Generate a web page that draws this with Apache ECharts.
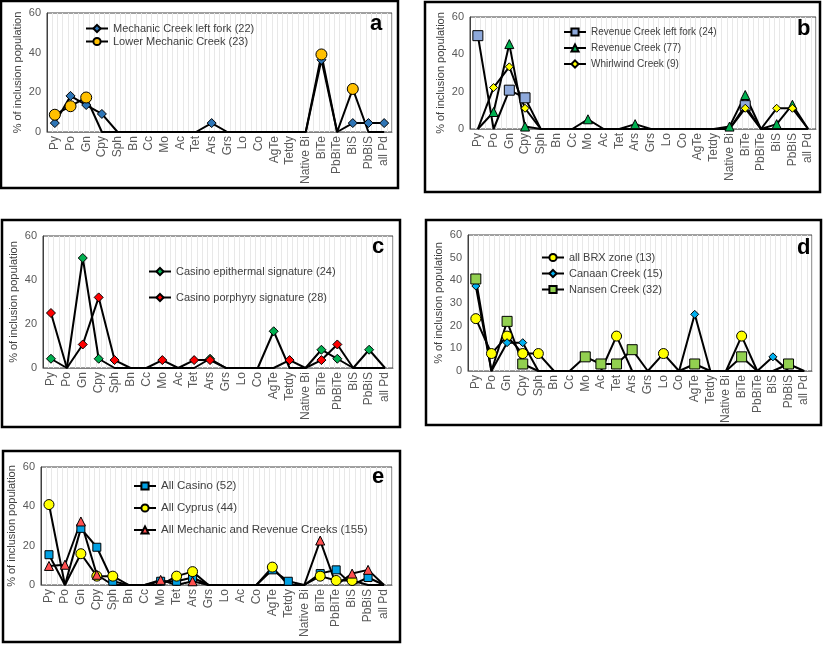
<!DOCTYPE html>
<html><head><meta charset="utf-8">
<script src="https://cdn.jsdelivr.net/npm/echarts@6/dist/echarts.min.js"></script>
<style>html,body{margin:0;padding:0;background:#fff}#c{width:824px;height:645px}</style>
</head><body><div id="c"></div>
<script>
// categories
const cats = ['Py','Po','Gn','Cpy','Sph','Bn','Cc','Mo','Ac','Tet','Ars','Grs','Lo','Co','AgTe','Tetdy','Native Bi','BiTe','PbBiTe','BiS','PbBiS','all Pd'];
const catsE = ['Py','Po','Gn','Cpy','Sph','Bn','Cc','Mo','Tet','Ars','Grs','Lo','Ac','Co','AgTe','Tetdy','Native Bi','BiTe','PbBiTe','BiS','PbBiS','all Pd'];
const yTicks20 = [0,20,40,60];
const yTicks10 = [0,10,20,30,40,50,60];
// panel a
const mechLeft  = [4.5,18.2,13.6,9.1,0,0,0,0,0,0,4.5,0,0,0,0,0,0,36.4,0,4.5,4.5,4.5];
const lowerMech = [8.7,13.0,17.4,0,0,0,0,0,0,0,0,0,0,0,0,0,0,39.1,0,21.7,0,0];
// panel b
const revLeft   = [50,0,20.8,16.7,0,0,0,0,0,0,0,0,0,0,0,0,0,12.5,0,0,0,0];
const revCreek  = [0,9.1,45.5,1.3,0,0,0,5.2,0,0,2.6,0,0,0,0,0,1.3,18.2,0,2.6,13.0,0];
const whirl     = [0,22.2,33.3,11.1,0,0,0,0,0,0,0,0,0,0,0,0,0,11.1,0,11.1,11.1,0];
// panel c
const casEpi    = [4.2,0,50,4.2,0,0,0,0,0,0,4.2,0,0,0,16.7,0,0,8.3,4.2,0,8.3,0];
const casPor    = [25,0,10.7,32.1,3.6,0,0,3.6,0,3.6,3.6,0,0,0,0,3.6,0,3.6,10.7,0,0,0];
// panel d
const brx       = [23.1,7.7,15.4,7.7,7.7,0,0,0,0,15.4,0,0,7.7,0,0,0,0,15.4,0,0,0,0];
const canaan    = [37.5,0,12.5,12.5,0,0,0,0,0,0,0,0,0,0,25,0,0,0,0,6.25,0,0];
const nansen    = [40.6,0,21.9,3.1,0,0,0,6.25,3.1,3.1,9.4,0,0,0,3.1,0,0,6.25,0,0,3.1,0];
// panel e
const allCasino = [15.4,0,28.8,19.2,1.9,0,0,1.9,1.9,3.8,0,0,0,0,7.7,1.9,0,5.8,7.7,0,3.8,0];
const allCyprus = [40.9,0,15.9,4.5,4.5,0,0,0,4.5,6.8,0,0,0,0,9.1,0,0,4.5,2.3,2.3,0,0];
const allMechRev= [9.7,10.3,32.3,5.2,0,0,0,2.6,0,1.9,0,0,0,0,0,0,0,22.6,0,5.8,7.7,0];

const FONT = 'Liberation Sans, Arial, sans-serif';
const panels = [
 {letter:'a', cats:cats, ticks:yTicks20, grid:{left:47,top:13,width:345,height:119}, box:[1,1,397,187], lx:378, ly:26,
  legend:{left:85,top:23,gap:2,fs:11},
  series:[{name:'Mechanic Creek left fork (22)',data:mechLeft,symbol:'diamond',size:9,color:'#2E75B6'},
          {name:'Lower Mechanic Creek (23)',data:lowerMech,symbol:'circle',size:11,color:'#FFC000'}]},
 {letter:'b', cats:cats, ticks:yTicks20, grid:{left:470,top:17,width:346,height:112}, box:[425,2,395,190], lx:805, ly:31,
  legend:{left:563,top:27,gap:6,fs:10},
  series:[{name:'Revenue Creek left fork (24)',data:revLeft,symbol:'rect',size:10,color:'#8EA9DB'},
          {name:'Revenue Creek (77)',data:revCreek,symbol:'triangle',size:9,color:'#00B050'},
          {name:'Whirlwind Creek (9)',data:whirl,symbol:'diamond',size:8,color:'#FFFF00'}]},
 {letter:'c', cats:cats, ticks:yTicks20, grid:{left:43,top:236,width:350,height:132}, box:[2,220,398,207], lx:380, ly:249,
  legend:{left:148,top:266,gap:15,fs:11},
  series:[{name:'Casino epithermal signature (24)',data:casEpi,symbol:'diamond',size:9,color:'#00B050'},
          {name:'Casino porphyry signature (28)',data:casPor,symbol:'diamond',size:9,color:'#FF0000'}]},
 {letter:'d', cats:cats, ticks:yTicks10, grid:{left:468,top:235,width:344,height:136}, box:[426,220,395,205], lx:805, ly:250,
  legend:{left:541,top:252,gap:5,fs:11},
  series:[{name:'all BRX zone (13)',data:brx,symbol:'circle',size:10,color:'#FFFF00'},
          {name:'Canaan Creek (15)',data:canaan,symbol:'diamond',size:8,color:'#00B0F0'},
          {name:'Nansen Creek (32)',data:nansen,symbol:'rect',size:10,color:'#92D050'}]},
 {letter:'e', cats:catsE, ticks:yTicks20, grid:{left:41,top:467,width:351,height:118}, box:[3,451,397,191], lx:380, ly:479,
  legend:{left:133,top:480,gap:10,fs:11.5},
  series:[{name:'All Casino (52)',data:allCasino,symbol:'rect',size:8,color:'#00A0E3'},
          {name:'All Cyprus (44)',data:allCyprus,symbol:'circle',size:10,color:'#FFFF00'},
          {name:'All Mechanic and Revenue Creeks (155)',data:allMechRev,symbol:'triangle',size:9,color:'#FF5050'}]}
];

const grids=[], xAxes=[], yAxes=[], series=[], legends=[], graphics=[];
panels.forEach((p,i)=>{
  grids.push(Object.assign({show:true,borderColor:'#404040',borderWidth:1,backgroundColor:'transparent'},p.grid));
  xAxes.push({type:'category',gridIndex:i,data:p.cats,boundaryGap:true,position:'bottom',
    axisLine:{lineStyle:{color:'#808080',width:1}},axisTick:{show:false},
    axisLabel:{rotate:90,interval:0,fontSize:12,color:'#595959',margin:4,fontFamily:FONT},splitLine:{show:false}});
  xAxes.push({type:'value',gridIndex:i,min:0,max:66,interval:1,position:'top',
    axisLine:{show:false},axisTick:{show:false},axisLabel:{show:false},
    splitLine:{show:true,lineStyle:{color:'#e8e8e8',width:1}}});
  const t=p.ticks;
  yAxes.push({type:'value',gridIndex:i,min:t[0],max:t[t.length-1],interval:t[1]-t[0],
    axisLine:{show:true,lineStyle:{color:'#404040'}},axisTick:{show:false},splitLine:{show:false},
    axisLabel:{fontSize:11,color:'#595959',margin:6,fontFamily:FONT},
    name:'% of inclusion population',nameLocation:'middle',nameRotate:90,nameGap:24,
    nameTextStyle:{fontSize:11,color:'#404040',fontFamily:FONT}});
  p.series.forEach(s=>{
    series.push({type:'line',name:s.name,xAxisIndex:2*i,yAxisIndex:i,
      data:s.data.map(v=>v>0?v:{value:v,symbol:'none'}),
      symbol:s.symbol,symbolSize:s.size,showAllSymbol:true,color:s.color,
      lineStyle:{color:'#000',width:2},itemStyle:{color:s.color,borderColor:'#000',borderWidth:1},
      emphasis:{disabled:true},animation:false});
  });
  legends.push({data:p.series.map(s=>s.name),orient:'vertical',left:p.legend.left,top:p.legend.top,
    itemGap:p.legend.gap,itemWidth:22,itemHeight:9,padding:0,selectedMode:false,
    textStyle:{fontSize:p.legend.fs,color:'#404040',fontFamily:FONT}});
  const b=p.box;
  graphics.push({type:'rect',shape:{x:b[0],y:b[1],width:b[2],height:b[3]},style:{fill:'none',stroke:'#000',lineWidth:2.5},z:100});
  graphics.push({type:'text',left:p.lx-8,top:p.ly-13,style:{text:p.letter,font:'bold 22px '+FONT,fill:'#000'},z:100});
});

const chart = echarts.init(document.getElementById('c'),null,{renderer:'canvas'});
chart.setOption({backgroundColor:'#fff',animation:false,grid:grids,xAxis:xAxes,yAxis:yAxes,series:series,legend:legends,graphic:graphics});
</script></body></html>
